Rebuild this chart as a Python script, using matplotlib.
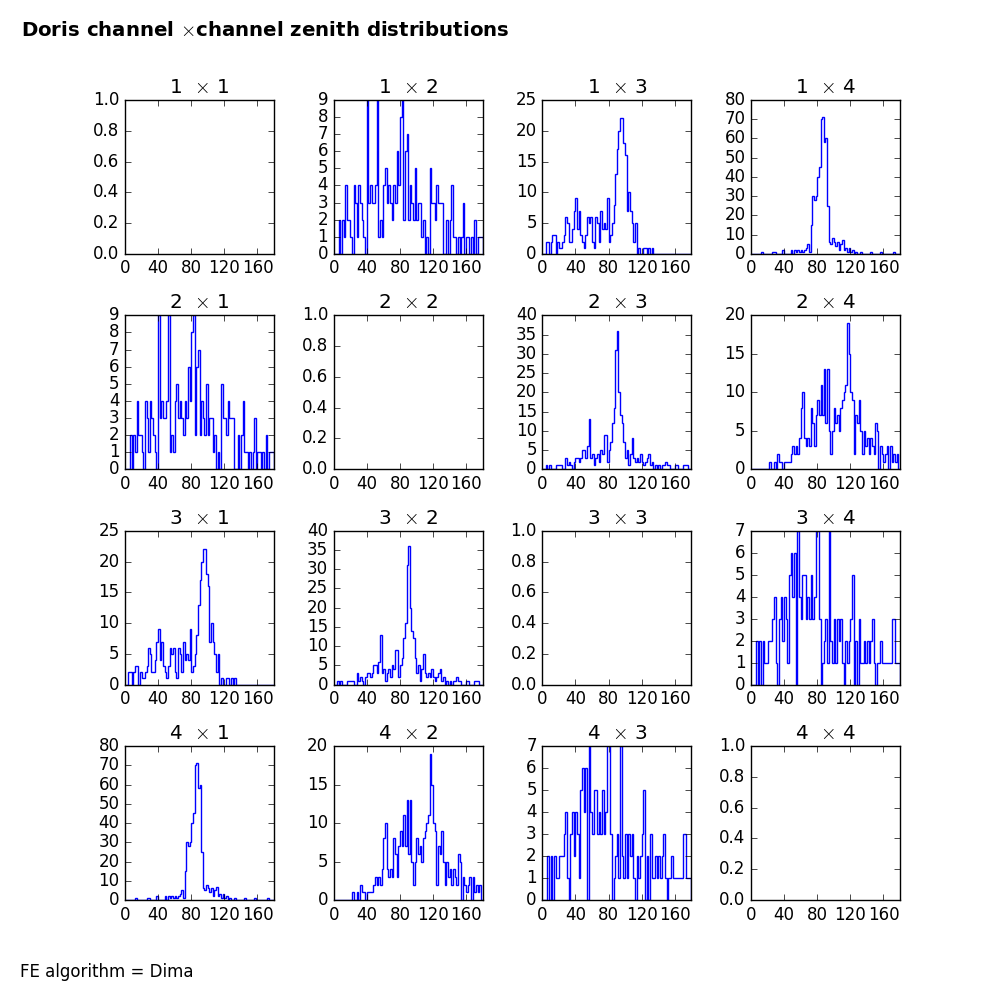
import numpy as np
import matplotlib
matplotlib.use('Agg')
import matplotlib.pyplot as plt

plt.style.use('classic')

# zenith angle bins, 2 degrees wide
edges = np.arange(0, 182, 2)
centers = edges[:-1] + 1

channels = [1, 2, 3, 4]

zen_12 = [0, 0, 0, 2, 0, 2, 1, 4, 2, 2,
          1, 0, 4, 3, 1, 4, 3, 2, 1, 0,
          9, 3, 4, 3, 3, 4, 9, 1, 2, 1,
          4, 5, 3, 4, 3, 2, 4, 3, 6, 4,
          8, 9, 2, 6, 7, 2, 4, 3, 2, 5,
          2, 3, 3, 1, 2, 0, 1, 0, 5, 3,
          3, 2, 4, 3, 3, 3, 0, 0, 2, 0,
          2, 4, 1, 1, 0, 1, 0, 1, 3, 0,
          1, 1, 0, 1, 0, 2, 0, 1, 1, 1]

zen_13 = [0, 0, 2, 2, 0, 2, 3, 3, 0, 2,
          1, 1, 2, 3, 6, 5, 2, 2, 4, 7,
          9, 4, 7, 3, 2, 1, 3, 6, 5, 6,
          2, 1, 6, 5, 2, 7, 4, 5, 4, 9,
          2, 3, 5, 8, 13, 17, 20, 22, 22, 18,
          16, 7, 10, 7, 5, 2, 5, 0, 1, 0,
          0, 1, 1, 0, 1, 0, 1, 0, 0, 0,
          0, 0, 0, 0, 0, 0, 0, 0, 0, 0,
          0, 0, 0, 0, 0, 0, 0, 0, 0, 0]

zen_14 = [0, 0, 0, 0, 0, 0, 1, 0, 0, 0,
          0, 0, 0, 1, 1, 0, 0, 0, 0, 2,
          0, 0, 0, 0, 2, 0, 2, 1, 2, 1,
          2, 1, 2, 3, 5, 1, 15, 30, 28, 30,
          40, 45, 70, 71, 58, 60, 25, 6, 5, 8,
          6, 4, 6, 2, 5, 7, 2, 3, 1, 3,
          1, 2, 0, 1, 0, 0, 1, 0, 0, 0,
          0, 0, 1, 0, 0, 0, 0, 0, 1, 0,
          0, 0, 0, 0, 0, 0, 1, 0, 0, 0]

zen_23 = [0, 0, 1, 0, 1, 0, 0, 0, 1, 1,
          1, 1, 0, 0, 3, 1, 2, 1, 0, 2,
          3, 3, 2, 3, 5, 5, 3, 6, 13, 3,
          4, 1, 3, 4, 2, 5, 4, 9, 9, 2,
          5, 7, 12, 16, 31, 36, 20, 14, 12, 7,
          3, 5, 1, 4, 8, 3, 2, 3, 2, 4,
          2, 1, 2, 3, 4, 1, 2, 0, 1, 0,
          1, 0, 1, 1, 2, 1, 1, 0, 0, 0,
          1, 1, 0, 0, 0, 1, 1, 1, 0, 0]

zen_24 = [0, 0, 0, 0, 0, 0, 0, 0, 0, 0,
          0, 1, 0, 0, 1, 0, 2, 1, 1, 0,
          1, 1, 1, 1, 2, 3, 2, 3, 2, 4,
          8, 10, 4, 3, 4, 3, 8, 6, 3, 7,
          9, 7, 11, 7, 13, 6, 13, 5, 2, 5,
          8, 6, 7, 5, 8, 9, 10, 11, 19, 15,
          10, 9, 2, 7, 6, 9, 5, 2, 5, 3,
          4, 2, 4, 3, 2, 6, 5, 0, 3, 2,
          1, 2, 3, 0, 3, 1, 2, 1, 2, 0]

zen_34 = [0, 0, 0, 2, 0, 2, 0, 2, 1, 1,
          2, 2, 2, 3, 4, 1, 0, 3, 4, 2,
          4, 3, 1, 5, 6, 4, 6, 0, 7, 4,
          3, 5, 5, 3, 4, 3, 5, 3, 4, 7,
          7, 3, 0, 1, 2, 3, 1, 7, 2, 1,
          3, 1, 3, 2, 3, 1, 0, 2, 1, 2,
          3, 5, 0, 2, 0, 3, 1, 1, 2, 1,
          2, 1, 2, 3, 1, 0, 1, 1, 2, 1,
          1, 1, 1, 1, 1, 3, 3, 1, 1, 1]

pairs = {(1, 2): zen_12, (1, 3): zen_13, (1, 4): zen_14,
         (2, 3): zen_23, (2, 4): zen_24, (3, 4): zen_34}

fig = plt.figure(figsize=(10, 10), dpi=100)
fig.subplots_adjust(left=0.125, right=0.9, bottom=0.1, top=0.9,
                    wspace=0.4, hspace=0.4)

for i in channels:
    for j in channels:
        ax = fig.add_subplot(4, 4, (i - 1) * 4 + j)
        key = (min(i, j), max(i, j))
        if i != j:
            ax.hist(centers, bins=edges, weights=pairs[key],
                    histtype='step', color='b')
        ax.set_xlim(0, 180)
        ax.set_xticks([0, 40, 80, 120, 160])
        ax.set_title(r'%d $\,\times\,$%d' % (i, j))

fig.text(0.021, 0.969, r'Doris channel $\times$channel zenith distributions',
         fontsize=14.2, fontweight='bold', va='center', ha='left')
fig.text(0.02, 0.028, 'FE algorithm = Dima', fontsize=12,
         va='center', ha='left')

fig.savefig('out.png', dpi=100)
